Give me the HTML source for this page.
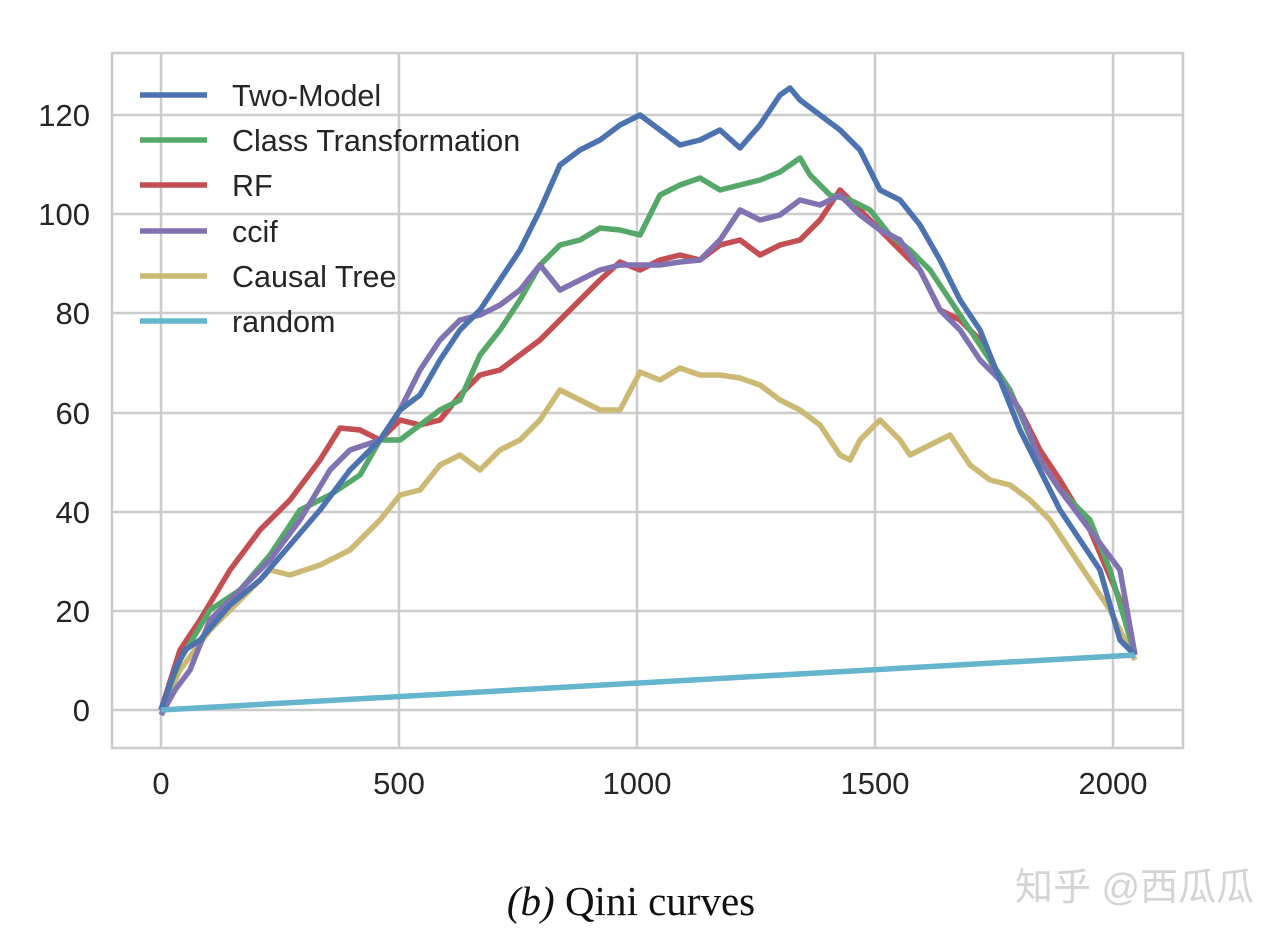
<!DOCTYPE html>
<html><head><meta charset="utf-8"><style>
body{margin:0;background:#fff;}
svg text{font-family:"Liberation Sans",sans-serif;fill:#262626;}
</style></head><body>
<svg width="1286" height="940" xmlns="http://www.w3.org/2000/svg">
<rect width="1286" height="940" fill="#fff"/>
<g stroke="#cccccc" stroke-width="2.5">
<line x1="161" y1="53" x2="161" y2="748"/><line x1="399" y1="53" x2="399" y2="748"/>
<line x1="637" y1="53" x2="637" y2="748"/><line x1="875" y1="53" x2="875" y2="748"/>
<line x1="1113" y1="53" x2="1113" y2="748"/>
<line x1="112" y1="710" x2="1183" y2="710"/><line x1="112" y1="611" x2="1183" y2="611"/>
<line x1="112" y1="512" x2="1183" y2="512"/><line x1="112" y1="413" x2="1183" y2="413"/>
<line x1="112" y1="313" x2="1183" y2="313"/><line x1="112" y1="214" x2="1183" y2="214"/>
<line x1="112" y1="115" x2="1183" y2="115"/>
<rect x="112" y="53" width="1071" height="695" fill="none"/>
</g>
<g font-size="31" text-anchor="end">
<text x="90" y="721">0</text><text x="90" y="622">20</text><text x="90" y="523">40</text>
<text x="90" y="424">60</text><text x="90" y="324">80</text><text x="90" y="225">100</text><text x="90" y="126">120</text>
</g>
<g font-size="31" text-anchor="middle">
<text x="161" y="794">0</text><text x="399" y="794">500</text><text x="637" y="794">1000</text>
<text x="875" y="794">1500</text><text x="1113" y="794">2000</text>
</g>
<g fill="none" stroke-width="5.5" stroke-linejoin="round">
<polyline stroke="#CCB974" points="161,710 180,670 210,630 240,600 270,570 290,575 320,565 350,550 380,520 400,495 420,490 440,465 460,455 480,470 500,450 520,440 540,420 560,390 580,400 600,410 620,410 640,372 660,380 680,368 700,375 720,375 740,378 760,385 780,400 800,410 820,425 840,455 850,460 860,440 880,420 900,440 910,455 930,445 950,435 970,465 990,480 1010,485 1030,500 1050,520 1070,550 1090,580 1110,610 1135,660"/>
<polyline stroke="#C44E52" points="161,710 180,650 200,620 230,570 260,530 290,500 320,460 340,428 360,430 380,440 400,420 420,425 440,420 460,395 480,375 500,370 520,355 540,340 560,320 580,300 600,280 620,262 640,270 660,260 680,255 700,260 720,245 740,240 760,255 780,245 800,240 820,220 840,190 860,210 880,230 900,250 920,270 940,310 960,320 980,340 1000,380 1020,410 1040,450 1060,480 1090,530 1120,600 1135,655"/>
<polyline stroke="#55A868" points="161,710 180,660 210,610 240,590 270,555 300,510 330,495 360,475 380,440 400,440 420,425 440,410 460,400 480,355 500,330 520,300 540,265 560,245 580,240 600,228 620,230 640,235 660,195 680,185 700,178 720,190 740,185 760,180 780,172 800,158 810,175 830,195 850,200 870,210 890,235 910,250 930,270 950,300 970,330 990,360 1010,390 1040,460 1060,490 1090,520 1110,570 1135,655"/>
<polyline stroke="#8172B2" points="161,715 175,690 190,670 210,620 240,590 270,560 300,520 330,470 350,450 380,440 400,410 420,370 440,340 460,320 480,315 500,305 520,290 540,265 560,290 580,280 600,270 620,265 640,265 660,265 680,262 700,260 720,240 740,210 760,220 780,215 800,200 820,205 840,195 860,215 880,230 900,240 920,270 940,310 960,330 980,360 1000,380 1020,410 1040,460 1060,490 1090,530 1120,570 1135,655"/>
<polyline stroke="#4C72B0" points="161,710 175,670 185,650 200,640 230,605 260,580 290,545 320,510 350,470 380,440 400,410 420,395 440,360 460,330 480,310 500,280 520,250 540,210 560,165 580,150 600,140 620,125 640,115 660,130 680,145 700,140 720,130 740,148 760,125 780,95 790,88 800,100 820,115 840,130 860,150 880,190 900,200 920,225 940,260 960,300 980,330 1000,380 1020,430 1040,470 1060,510 1080,540 1100,570 1120,640 1135,655"/>
<polyline stroke="#64B5CD" points="161,710 1135,655"/>
</g>
<g stroke-width="5.5">
<line x1="140" y1="95" x2="207" y2="95" stroke="#4C72B0"/>
<line x1="140" y1="140" x2="207" y2="140" stroke="#55A868"/>
<line x1="140" y1="185" x2="207" y2="185" stroke="#C44E52"/>
<line x1="140" y1="231" x2="207" y2="231" stroke="#8172B2"/>
<line x1="140" y1="276" x2="207" y2="276" stroke="#CCB974"/>
<line x1="140" y1="321" x2="207" y2="321" stroke="#64B5CD"/>
</g>
<g font-size="30.5">
<text x="232" y="106">Two-Model</text><text x="232" y="151">Class Transformation</text>
<text x="232" y="196">RF</text><text x="232" y="242">ccif</text>
<text x="232" y="287">Causal Tree</text><text x="232" y="332">random</text>
</g>
<text x="631" y="915" text-anchor="middle" font-size="41" style="font-family:'Liberation Serif',serif;fill:#111"><tspan font-style="italic">(b)</tspan> Qini curves</text>
<text x="1015" y="900" font-size="38" style="font-family:'Liberation Sans','Noto Sans CJK SC',sans-serif;fill:#d4d4d4">知乎 @西瓜瓜</text>
</svg>
</body></html>
